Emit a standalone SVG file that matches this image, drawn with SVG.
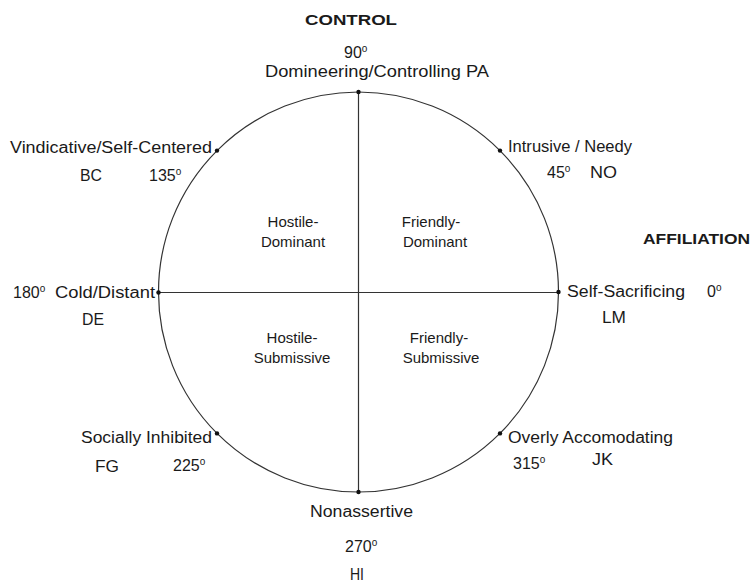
<svg xmlns="http://www.w3.org/2000/svg" width="751" height="587" viewBox="0 0 751 587">
<style>
text{font-family:"Liberation Sans",Arial,Helvetica,sans-serif;fill:#1a1a1a;font-size:16px}
.b{font-weight:bold;font-size:15px}
.q{font-size:15px;text-anchor:middle}
.sup{font-size:10px}
.dot{fill:#111}
.ax{stroke:#333;stroke-width:1.2;fill:none}
</style>
<rect width="751" height="587" fill="#fff"/>
<g id="circle"><circle class="ax" cx="358.5" cy="292" r="200"/></g>
<g id="connectors">
<line class="ax" x1="358.5" y1="92" x2="358.5" y2="492"/>
<line class="ax" x1="158.5" y1="292.5" x2="558.5" y2="292.5"/>
</g>
<g id="dots">
<circle class="dot" cx="358.5" cy="92" r="2.2"/>
<circle class="dot" cx="358.5" cy="492" r="2.2"/>
<circle class="dot" cx="158.5" cy="292.5" r="2.2"/>
<circle class="dot" cx="558.5" cy="292" r="2.2"/>
<circle class="dot" cx="217" cy="150.6" r="2.2"/>
<circle class="dot" cx="500" cy="150.6" r="2.2"/>
<circle class="dot" cx="217" cy="433.4" r="2.2"/>
<circle class="dot" cx="500" cy="433.4" r="2.2"/>
</g>
<g id="control"><text class="b" x="305" y="25" textLength="92" lengthAdjust="spacingAndGlyphs">CONTROL</text></g>
<g id="affiliation"><text class="b" x="643" y="244" textLength="107" lengthAdjust="spacingAndGlyphs">AFFILIATION</text></g>
<g id="n90">
<text x="344" y="58">90<tspan class="sup" dy="-6">o</tspan></text>
<text x="265" y="77" textLength="224" lengthAdjust="spacingAndGlyphs">Domineering/Controlling  PA</text>
</g>
<g id="n135">
<text x="10" y="153" textLength="202" lengthAdjust="spacingAndGlyphs">Vindicative/Self-Centered</text>
<text x="80" y="181" textLength="22" lengthAdjust="spacingAndGlyphs">BC</text>
<text x="149" y="181">135<tspan class="sup" dy="-6">o</tspan></text>
</g>
<g id="n45">
<text x="508" y="152" textLength="124" lengthAdjust="spacingAndGlyphs">Intrusive / Needy</text>
<text x="547" y="178">45<tspan class="sup" dy="-6">o</tspan></text>
<text x="590" y="178" textLength="27" lengthAdjust="spacingAndGlyphs">NO</text>
</g>
<g id="n180">
<text x="13" y="298">180<tspan class="sup" dy="-6">o</tspan></text>
<text x="55" y="298" textLength="100" lengthAdjust="spacingAndGlyphs">Cold/Distant</text>
<text x="82" y="325" textLength="22" lengthAdjust="spacingAndGlyphs">DE</text>
</g>
<g id="n0">
<text x="567" y="297" textLength="118" lengthAdjust="spacingAndGlyphs">Self-Sacrificing</text>
<text x="707" y="297">0<tspan class="sup" dy="-6">o</tspan></text>
<text x="602" y="323" textLength="24" lengthAdjust="spacingAndGlyphs">LM</text>
</g>
<g id="n225">
<text x="81" y="443" textLength="131" lengthAdjust="spacingAndGlyphs">Socially Inhibited</text>
<text x="95" y="472" textLength="24" lengthAdjust="spacingAndGlyphs">FG</text>
<text x="173" y="471">225<tspan class="sup" dy="-6">o</tspan></text>
</g>
<g id="n315">
<text x="508" y="443" textLength="165" lengthAdjust="spacingAndGlyphs">Overly Accomodating</text>
<text x="513" y="469">315<tspan class="sup" dy="-6">o</tspan></text>
<text x="592" y="465" textLength="21" lengthAdjust="spacingAndGlyphs">JK</text>
</g>
<g id="n270">
<text x="310" y="517" textLength="103" lengthAdjust="spacingAndGlyphs">Nonassertive</text>
<text x="345" y="552">270<tspan class="sup" dy="-6">o</tspan></text>
<text x="350" y="580" textLength="14" lengthAdjust="spacingAndGlyphs">HI</text>
</g>
<g id="q-hostile-dominant">
<text class="q" x="293" y="227">Hostile-</text>
<text class="q" x="293" y="247">Dominant</text>
</g>
<g id="q-friendly-dominant">
<text class="q" x="431" y="227">Friendly-</text>
<text class="q" x="435" y="247">Dominant</text>
</g>
<g id="q-hostile-submissive">
<text class="q" x="292" y="343">Hostile-</text>
<text class="q" x="292" y="363">Submissive</text>
</g>
<g id="q-friendly-submissive">
<text class="q" x="439" y="343">Friendly-</text>
<text class="q" x="441" y="363">Submissive</text>
</g>
</svg>
